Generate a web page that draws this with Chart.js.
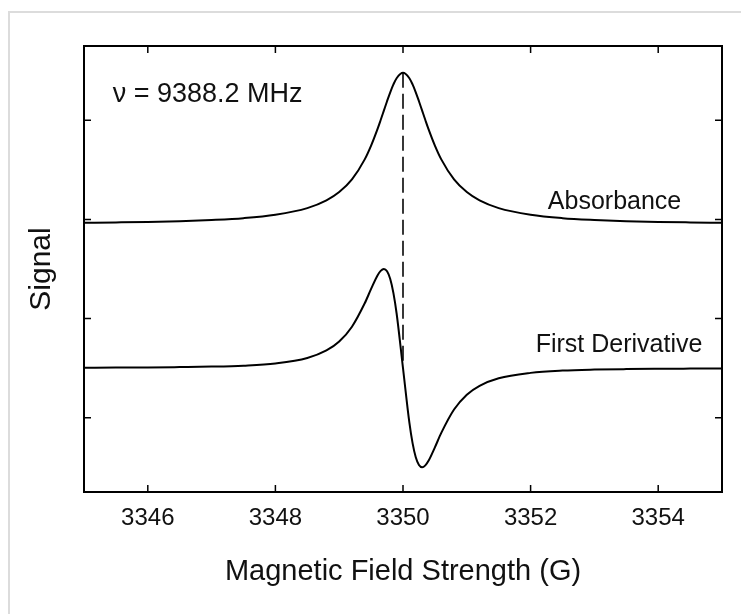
<!DOCTYPE html>
<html>
<head>
<meta charset="utf-8">
<script src="https://cdn.jsdelivr.net/npm/chart.js@4.4.1/dist/chart.umd.min.js"></script>
<style>
  html, body { margin: 0; padding: 0; background: #fff; }
  #wrap { position: relative; width: 741px; height: 614px; overflow: hidden; }
  #frame { position: absolute; left: 8px; top: 11px; width: 760px; height: 640px;
           border-top: 2px solid #dcdcdc; border-left: 2px solid #dcdcdc; pointer-events: none; }
  canvas { position: absolute; left: 0; top: 0; }
</style>
</head>
<body>
<div id="wrap">
  <canvas id="c" width="741" height="614"></canvas>
  <div id="frame"></div>
</div>
<script>
// Magnetic field (G)
const fieldG = [3345, 3345.5, 3346, 3346.5, 3347, 3347.5, 3348, 3348.5, 3348.8, 3349, 3349.2, 3349.4, 3349.5, 3349.6, 3349.65, 3349.7, 3349.75, 3349.8, 3349.85, 3349.9, 3350, 3350.1, 3350.15, 3350.2, 3350.25, 3350.3, 3350.35, 3350.4, 3350.5, 3350.6, 3350.8, 3351, 3351.2, 3351.5, 3352, 3352.5, 3353, 3353.5, 3354, 3354.5, 3355];
// Absorbance signal (offset, arbitrary units)
const absorbance = [0.466, 0.470, 0.475, 0.483, 0.495, 0.513, 0.547, 0.614, 0.692, 0.776, 0.904, 1.106, 1.245, 1.411, 1.503, 1.598, 1.693, 1.783, 1.862, 1.925, 1.980, 1.925, 1.862, 1.783, 1.693, 1.598, 1.503, 1.411, 1.245, 1.106, 0.904, 0.776, 0.692, 0.614, 0.547, 0.513, 0.495, 0.483, 0.475, 0.470, 0.466];
// First derivative signal (offset, arbitrary units)
const firstDerivative = [-0.997, -0.995, -0.994, -0.990, -0.985, -0.975, -0.953, -0.898, -0.822, -0.732, -0.582, -0.346, -0.201, -0.065, -0.019, 0.000, -0.023, -0.101, -0.243, -0.449, -1.000, -1.551, -1.757, -1.899, -1.977, -2.000, -1.981, -1.935, -1.799, -1.654, -1.418, -1.268, -1.178, -1.102, -1.048, -1.025, -1.015, -1.010, -1.007, -1.005, -1.003];
// Dashed resonance marker
const markerX = [3350, 3350];
const markerY = [1.98, -0.97];
// Axis ticks
const xTickValues = [3346, 3348, 3350, 3352, 3354];
const yTickValues = [-1.5, -0.5, 0.5, 1.5];
const xRange = [3345, 3355];
const yRange = [-2.25, 2.25];
// Text labels
const labelTexts = ['\u03BD = 9388.2 MHz', 'Absorbance', 'First Derivative'];

const toPts = (xs, ys) => xs.map((x, i) => ({ x: x, y: ys[i] }));

const annotations = [
  { text: labelTexts[0], x: 3345.45, y: 1.69, font: '27px "Liberation Sans", Arial, sans-serif' },
  { text: labelTexts[1], x: 3352.27, y: 0.61, font: '25px "Liberation Sans", Arial, sans-serif' },
  { text: labelTexts[2], x: 3352.08, y: -0.835, font: '25px "Liberation Sans", Arial, sans-serif' }
];

const framePlugin = {
  id: 'frameTicks',
  afterDatasetsDraw(chart) {
    const { ctx, chartArea: a, scales: { x, y } } = chart;
    ctx.save();
    ctx.strokeStyle = '#000';
    ctx.lineWidth = 2;
    ctx.strokeRect(a.left, a.top, a.right - a.left, a.bottom - a.top);
    ctx.lineWidth = 1.5;
    const L = 7;
    ctx.beginPath();
    x.ticks.forEach(t => {
      const px = x.getPixelForValue(t.value);
      ctx.moveTo(px, a.bottom); ctx.lineTo(px, a.bottom - L);
      ctx.moveTo(px, a.top); ctx.lineTo(px, a.top + L);
    });
    y.ticks.forEach(t => {
      const py = y.getPixelForValue(t.value);
      ctx.moveTo(a.left, py); ctx.lineTo(a.left + L, py);
      ctx.moveTo(a.right, py); ctx.lineTo(a.right - L, py);
    });
    ctx.stroke();
    ctx.fillStyle = '#111';
    ctx.textBaseline = 'alphabetic';
    ctx.textAlign = 'left';
    annotations.forEach(an => {
      ctx.font = an.font;
      ctx.fillText(an.text, x.getPixelForValue(an.x), y.getPixelForValue(an.y));
    });
    ctx.restore();
  }
};

new Chart(document.getElementById('c'), {
  type: 'line',
  data: {
    datasets: [
      { data: toPts(fieldG, absorbance), borderColor: '#000', borderWidth: 2, pointRadius: 0, cubicInterpolationMode: 'monotone', fill: false },
      { data: toPts(fieldG, firstDerivative), borderColor: '#000', borderWidth: 2, pointRadius: 0, cubicInterpolationMode: 'monotone', fill: false },
      { data: toPts(markerX, markerY), borderColor: '#222', borderWidth: 1.8, borderDash: [15, 6], pointRadius: 0, fill: false }
    ]
  },
  options: {
    responsive: false,
    animation: false,
    events: [],
    layout: { padding: { top: 46, right: 19, bottom: 0, left: 0 } },
    plugins: { legend: { display: false }, tooltip: { enabled: false } },
    scales: {
      x: {
        type: 'linear',
        min: xRange[0], max: xRange[1],
        afterBuildTicks: s => { s.ticks = xTickValues.map(v => ({ value: v })); },
        afterFit: s => { s.height = 122; },
        grid: { display: false, drawTicks: false },
        border: { display: false },
        ticks: { color: '#111', padding: 12, font: { family: '"Liberation Sans", Arial, sans-serif', size: 24 }, callback: v => String(v) },
        title: { display: true, text: 'Magnetic Field Strength (G)', color: '#111', padding: { top: 0, bottom: 25 }, font: { family: '"Liberation Sans", Arial, sans-serif', size: 29 } }
      },
      y: {
        type: 'linear',
        min: yRange[0], max: yRange[1],
        afterBuildTicks: s => { s.ticks = yTickValues.map(v => ({ value: v })); },
        afterFit: s => { s.width = 84; },
        grid: { display: false, drawTicks: false },
        border: { display: false },
        ticks: { display: false },
        title: { display: true, text: 'Signal', color: '#111', padding: { top: 24, bottom: 0 }, font: { family: '"Liberation Sans", Arial, sans-serif', size: 30 } }
      }
    }
  },
  plugins: [framePlugin]
});
</script>
</body>
</html>
